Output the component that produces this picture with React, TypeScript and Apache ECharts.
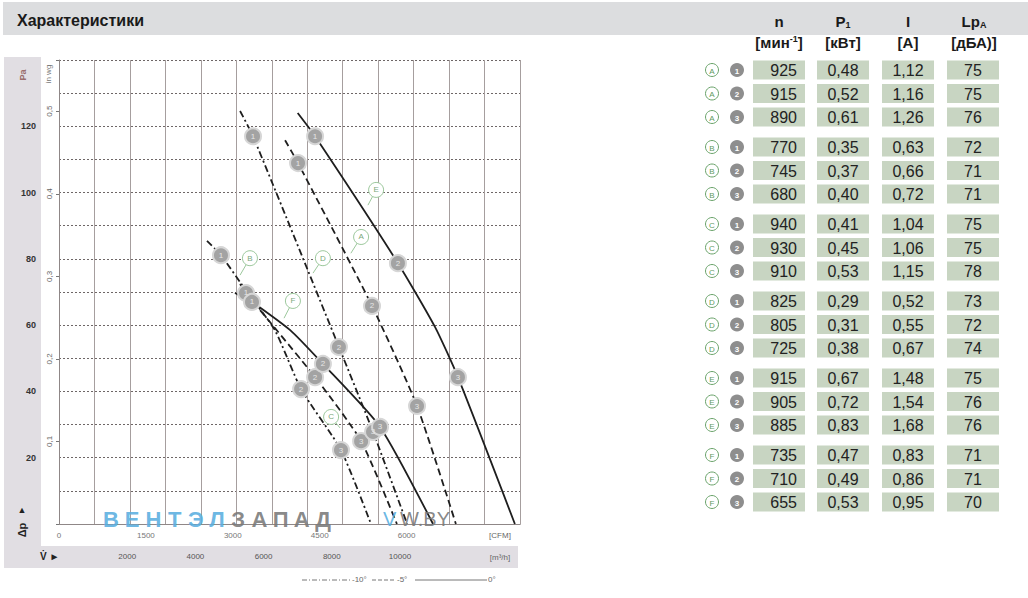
import React, { useEffect, useRef } from 'react';
import * as echarts from 'echarts';

// ---------- axis constants ----------
const X_MAX = 13520; // m3/h at right edge of plot
const Y_MAX = 140; // Pa
const M3H_PER_CFM = 1.699;
const PA_PER_INWG = 249.09;
const GRID_COLS = 13;

// ---------- fan curves [m3/h, Pa] ----------
const curveA = [[6630, 115.8], [7010, 108.9], [9180, 65.8], [10500, 35.6], [11640, 0]];
const curveB = [[4340, 85.4], [4750, 81.1], [5480, 70.5], [6330, 58.5], [7100, 40.7], [8270, 22.3], [9150, 0]];
const curveC = [[5310, 72.4], [5485, 69.7], [7510, 44.3], [8860, 25.0], [9910, 0]];
const curveD = [[5310, 124.6], [5690, 117.0], [8210, 53.4], [9210, 27.8], [10210, 0]];
const curveE = [[7000, 124.0], [7510, 117.0], [9940, 78.7], [11030, 59.4], [11700, 44.3], [13370, 0]];
const curveF = [[5160, 69.7], [5660, 67.0], [6780, 58.5], [7740, 48.3], [9415, 29.3], [10970, 0]];

// ---------- operating points 1,2,3 [m3/h, Pa] ----------
const pointsA = [[7010, 108.9], [9180, 65.8], [10500, 35.6]];
const pointsB = [[4750, 81.1], [7100, 40.7], [8270, 22.3]];
const pointsC = [[5485, 69.7], [7510, 44.3], [8860, 25.0]];
const pointsD = [[5690, 117.0], [8210, 53.4], [9210, 27.8]];
const pointsE = [[7510, 117.0], [9940, 78.7], [11700, 44.3]];
const pointsF = [[5660, 67.0], [7740, 48.3], [9415, 29.3]];

// ---------- curve tags (letter bubble + leader end) ----------
const curveLetters = ['A', 'B', 'C', 'D', 'E', 'F'];
const tagPos = [[8860, 86.6], [5600, 80.2], [7980, 32.3], [7740, 80.2], [9300, 100.8], [6860, 67.3]];
const tagAnchor = [[8560, 81.7], [5310, 75.1], [8240, 29.0], [7450, 75.7], [9060, 96.2], [6600, 62.1]];

// ---------- table ----------
const speedN = [[925, 915, 890], [770, 745, 680], [940, 930, 910], [825, 805, 725], [915, 905, 885], [735, 710, 655]];
const powerP1 = [[0.48, 0.52, 0.61], [0.35, 0.37, 0.40], [0.41, 0.45, 0.53], [0.29, 0.31, 0.38], [0.67, 0.72, 0.83], [0.47, 0.49, 0.53]];
const currentI = [[1.12, 1.16, 1.26], [0.63, 0.66, 0.72], [1.04, 1.06, 1.15], [0.52, 0.55, 0.67], [1.48, 1.54, 1.68], [0.83, 0.86, 0.95]];
const noiseLpA = [[75, 75, 76], [72, 71, 71], [75, 75, 78], [73, 72, 74], [75, 76, 76], [71, 71, 70]];

const FONT_N = "'Liberation Sans Narrow','Arial Narrow','Liberation Sans',Arial,sans-serif";
const FONT = "'Liberation Sans',Arial,sans-serif";

const DASHED = [7, 4];
const DASHDOT = [7, 3, 2, 3];

const comma = (v: number) => v.toFixed(2).replace('.', ',');

function buildGraphic() {
  const els: any[] = [];
  // header band
  els.push({ type: 'rect', shape: { x: 3, y: 2, width: 1025, height: 33 }, style: { fill: '#dcdddf' }, silent: true });
  els.push({ type: 'text', x: 17, y: 20, style: { text: 'Характеристики', fill: '#1a1a1a', font: `bold 16px ${FONT_N}`, align: 'left', verticalAlign: 'middle' } });

  // hatched bands
  els.push({ type: 'rect', shape: { x: 4, y: 57, width: 37, height: 511 }, style: { fill: '#e1dee3' } });
  els.push({ type: 'rect', shape: { x: 4, y: 546, width: 514, height: 22 }, style: { fill: '#e1dee3' } });

  // axis captions
  els.push({ type: 'text', x: 23, y: 75, rotation: Math.PI / 2, style: { text: 'Pa', fill: '#9a6e6e', font: `bold 9px ${FONT}`, align: 'center', verticalAlign: 'middle' } });
  els.push({ type: 'text', x: 48, y: 74, rotation: Math.PI / 2, style: { text: 'in wg', fill: '#777', font: `8px ${FONT}`, align: 'center', verticalAlign: 'middle' } });
  els.push({ type: 'text', x: 22, y: 510, style: { text: '▲', fill: '#222', font: `9px ${FONT}`, align: 'center', verticalAlign: 'middle' } });
  els.push({ type: 'text', x: 22, y: 530, rotation: Math.PI / 2, style: { text: 'Δp', fill: '#222', font: `bold 11px ${FONT}`, align: 'center', verticalAlign: 'middle' } });
  els.push({ type: 'text', x: 40, y: 556, style: { text: 'V̇ ►', fill: '#222', font: `bold 10px ${FONT}`, align: 'left', verticalAlign: 'middle' } });
  els.push({ type: 'text', x: 500, y: 535, style: { text: '[CFM]', fill: '#666', font: `8px ${FONT}`, align: 'center', verticalAlign: 'middle' } });
  els.push({ type: 'text', x: 500, y: 557, style: { text: '[m³/h]', fill: '#666', font: `8px ${FONT}`, align: 'center', verticalAlign: 'middle' } });

  // watermark
  const wm = 'ВЕНТЭЛЗАПАД';
  for (let i = 0; i < wm.length; i++) {
    els.push({ type: 'text', z: 100, x: 111 + i * 21.2, y: 519, style: { text: wm[i], fill: i < 6 ? '#5aaee0' : '#7a7a7a', opacity: 0.9, font: `bold 22px ${FONT}`, align: 'center', verticalAlign: 'middle' } });
  }
  els.push({ type: 'text', z: 100, x: 383, y: 519, style: { text: 'V', fill: '#5aaee0', opacity: 0.9, font: `20px ${FONT}`, align: 'left', verticalAlign: 'middle' } });
  els.push({ type: 'text', z: 100, x: 400, y: 519, style: { text: 'W.BY', fill: '#7a7a7a', opacity: 0.9, font: `20px ${FONT}`, align: 'left', verticalAlign: 'middle' } });

  // bottom legend
  const ly = 580;
  els.push({ type: 'line', shape: { x1: 302, y1: ly, x2: 350, y2: ly }, style: { stroke: '#777', lineWidth: 1, lineDash: [5, 2, 1, 2] } });
  els.push({ type: 'text', x: 352, y: ly - 1, style: { text: '-10°', fill: '#666', font: `8px ${FONT}`, align: 'left', verticalAlign: 'middle' } });
  els.push({ type: 'line', shape: { x1: 372, y1: ly, x2: 395, y2: ly }, style: { stroke: '#777', lineWidth: 1, lineDash: [4, 2] } });
  els.push({ type: 'text', x: 397, y: ly - 1, style: { text: '-5°', fill: '#666', font: `8px ${FONT}`, align: 'left', verticalAlign: 'middle' } });
  els.push({ type: 'line', shape: { x1: 415, y1: ly, x2: 487, y2: ly }, style: { stroke: '#777', lineWidth: 1 } });
  els.push({ type: 'text', x: 488, y: ly - 1, style: { text: '0°', fill: '#666', font: `8px ${FONT}`, align: 'left', verticalAlign: 'middle' } });

  // table header
  const hx = [779, 843, 908, 974];
  const bold = { fill: '#1a1a1a', fontFamily: FONT_N, fontSize: 15, fontWeight: 'bold' as const };
  const small = { fill: '#1a1a1a', fontFamily: FONT_N, fontSize: 9, fontWeight: 'bold' as const };
  const head1 = ['{b|n}', '{b|P}{s|1}', '{b|I}', '{b|Lp}{s|A}'];
  const head2 = ['{b|[мин}{u|-1}{b|]}', '{b|[кВт]}', '{b|[A]}', '{b|[дБА)]}'];
  for (let i = 0; i < 4; i++) {
    els.push({ type: 'text', x: hx[i], y: 21, style: { text: head1[i], align: 'center', verticalAlign: 'middle', rich: { b: { ...bold, lineHeight: 16 }, s: { ...small, verticalAlign: 'bottom', lineHeight: 16 } } } });
    els.push({ type: 'text', x: hx[i], y: 42, style: { text: head2[i], align: 'center', verticalAlign: 'middle', rich: { b: { ...bold, lineHeight: 16 }, u: { ...small, verticalAlign: 'top', lineHeight: 16 } } } });
  }

  // table rows
  const colX = [753, 817, 882, 947];
  const colW = 52;
  for (let g = 0; g < 6; g++) {
    for (let r = 0; r < 3; r++) {
      const cy = 70 + 77 * g + 23.5 * r;
      els.push({ type: 'circle', shape: { cx: 712, cy, r: 6.5 }, style: { fill: '#fff', stroke: '#6aa36a', lineWidth: 1 } });
      els.push({ type: 'text', x: 712, y: cy + 1, style: { text: curveLetters[g], fill: '#5f9a5f', font: `8px ${FONT}`, align: 'center', verticalAlign: 'middle' } });
      els.push({ type: 'circle', shape: { cx: 737, cy, r: 7 }, style: { fill: '#8e8e8e' } });
      els.push({ type: 'text', x: 737, y: cy + 1, style: { text: String(r + 1), fill: '#fff', font: `bold 8px ${FONT}`, align: 'center', verticalAlign: 'middle' } });
      const vals = [String(speedN[g][r]), comma(powerP1[g][r]), comma(currentI[g][r]), String(noiseLpA[g][r])];
      for (let c = 0; c < 4; c++) {
        els.push({ type: 'rect', shape: { x: colX[c], y: cy - 9.5, width: colW, height: 19 }, style: { fill: '#c8d5c2' } });
        els.push({
          type: 'text', x: c === 0 ? colX[c] + colW - 8 : colX[c] + colW / 2, y: cy + 0.5,
          style: { text: vals[c], fill: '#222', font: `16px ${FONT_N}`, align: c === 0 ? 'right' : 'center', verticalAlign: 'middle' },
        });
      }
    }
  }
  return els;
}

function curveSeries(data: number[][], type: any) {
  return {
    type: 'line', xAxisIndex: 0, yAxisIndex: 0, data, symbol: 'none', smooth: 0.2, z: 3,
    lineStyle: { color: '#1e1e1e', width: 1.8, type },
  };
}

function pointSeries(data: number[][]) {
  return {
    type: 'scatter', xAxisIndex: 0, yAxisIndex: 0, data, symbol: 'circle', symbolSize: 16, z: 6,
    itemStyle: { color: '#a3a3a3', borderColor: '#d6d6d6', borderWidth: 2, opacity: 1 },
    label: { show: true, position: 'inside', formatter: (p: any) => String(p.dataIndex + 1), color: '#e6e6e6', fontSize: 8, fontFamily: FONT },
  };
}

export default function App() {
  const ref = useRef<HTMLDivElement>(null);
  useEffect(() => {
    const chart = echarts.init(ref.current!, null, { renderer: 'svg' });
    const axisGray = '#8f8787';
    const option: any = {
      animation: false,
      backgroundColor: '#fff',
      grid: { left: 59, top: 60, width: 461, height: 464, containLabel: false },
      xAxis: [
        {
          type: 'value', min: 0, max: X_MAX, interval: 2000, position: 'bottom',
          axisLine: { show: true, onZero: false, lineStyle: { color: axisGray } }, axisTick: { show: false }, splitLine: { show: false },
          axisLabel: { margin: 28, fontSize: 8, color: '#555', fontFamily: FONT, formatter: (v: number) => (v > 0 && v < 12000 ? String(v) : '') },
        },
        {
          type: 'value', min: 0, max: X_MAX / M3H_PER_CFM, interval: 1500, position: 'bottom',
          axisLine: { show: false }, axisTick: { show: false }, splitLine: { show: false },
          axisLabel: { margin: 7, fontSize: 8, color: '#777', fontFamily: FONT, formatter: (v: number) => (v < 7000 ? String(v) : '') },
        },
        {
          type: 'value', min: 0, max: GRID_COLS, interval: 1, position: 'top',
          axisLine: { show: true, lineStyle: { color: axisGray } }, axisTick: { show: false }, axisLabel: { show: false },
          splitLine: { show: true, lineStyle: { color: '#a69e9e', width: 1 } },
        },
      ],
      yAxis: [
        {
          type: 'value', min: 0, max: Y_MAX, interval: 10, position: 'left',
          axisLine: { show: true, onZero: false, lineStyle: { color: axisGray } }, axisTick: { show: false },
          splitLine: { show: true, lineStyle: { color: '#6e6666', type: [2, 2], width: 1 } },
          axisLabel: { margin: 23, fontSize: 9, fontWeight: 'bold', color: '#333', fontFamily: FONT, formatter: (v: number) => (v % 20 === 0 && v > 0 && v < 140 ? String(v) : '') },
        },
        {
          type: 'value', min: 0, max: Y_MAX / PA_PER_INWG, interval: 0.1, position: 'left',
          axisLine: { show: false }, axisTick: { show: true, length: 3, lineStyle: { color: '#777' } }, splitLine: { show: false },
          axisLabel: { margin: 6, rotate: 90, fontSize: 8, color: '#666', fontFamily: FONT, formatter: (v: number) => (v > 0.05 && v < 0.55 ? v.toFixed(1).replace('.', ',') : '') },
        },
      ],
      series: [
        curveSeries(curveA, DASHED),
        curveSeries(curveB, DASHDOT),
        curveSeries(curveC, DASHED),
        curveSeries(curveD, DASHDOT),
        curveSeries(curveE, 'solid'),
        curveSeries(curveF, 'solid'),
        {
          type: 'lines', coordinateSystem: 'cartesian2d', xAxisIndex: 0, yAxisIndex: 0, z: 4,
          lineStyle: { color: '#9cc89c', width: 1, opacity: 1 },
          data: tagPos.map((p, i) => ({ coords: [p, tagAnchor[i]] })),
        },
        {
          type: 'scatter', xAxisIndex: 0, yAxisIndex: 0, z: 5, symbolSize: 15,
          data: tagPos.map((p, i) => [p[0], p[1], curveLetters[i]]),
          itemStyle: { color: '#ffffff', borderColor: '#9cc89c', borderWidth: 1, opacity: 1 },
          label: { show: true, position: 'inside', formatter: (p: any) => p.value[2], color: '#7aa87a', fontSize: 8, fontFamily: FONT },
        },
        pointSeries(pointsA),
        pointSeries(pointsB),
        pointSeries(pointsC),
        pointSeries(pointsD),
        pointSeries(pointsE),
        pointSeries(pointsF),
      ],
      graphic: buildGraphic(),
    };
    chart.setOption(option);
    return () => chart.dispose();
  }, []);
  return <div ref={ref} style={{ position: 'absolute', left: 0, top: 0, width: 1028, height: 598 }} />;
}
